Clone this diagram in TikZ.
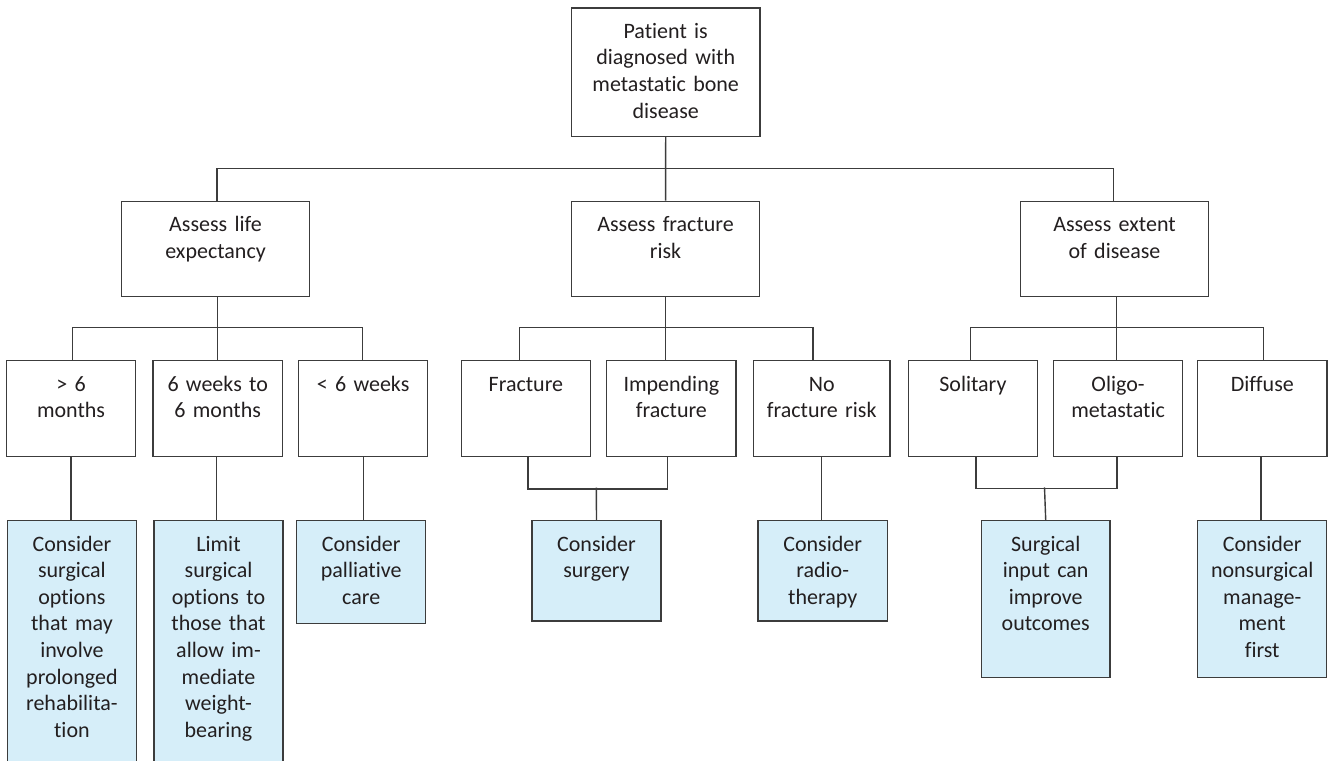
\documentclass[tikz,border=0pt]{standalone}
\usepackage{fontspec}
\setmainfont{Carlito}[Ligatures={NoCommon,NoContextual}]
\definecolor{ln}{HTML}{3C3C3C}
\definecolor{bf}{HTML}{D6EEF9}
\definecolor{txt}{HTML}{231F20}
\tikzset{
  bx/.style={draw=ln, line width=0.7pt, inner sep=0pt, anchor=north west},
  wbx/.style={bx, fill=white},
  bbx/.style={bx, fill=bf},
  tx/.style={anchor=base, inner sep=0pt, text width=#1, align=center,
    font=\fontsize{11}{13.3}\selectfont, text=txt},
  cn/.style={draw=ln, line width=0.7pt},
}
% #1 style, #2 name, #3 x1, #4 y1, #5 x2, #6 y2, #7 text width, #8 text
\newcommand\mybox[8]{%
  \node[#1, minimum width={(#5-#3)*0.5}, minimum height={(#6-#4)*0.5}] (#2) at (#3,#4) {};
  \node[tx=#7] (#2-t) at ([yshift=-15.5pt]#2.north) {#8};
}
\begin{document}
\begin{tikzpicture}[x=0.5pt, y=-0.5pt]
\path[use as bounding box, fill=white] (0,0) rectangle (1331,760);
\clip (0,0) rectangle (1331,760);

\coordinate (mB) at (596.3,487.7);
\coordinate (mC) at (1044.5,487.3);

% boxes
\mybox{wbx}{root}{570.7}{7.3}{759.3}{135.7}{90pt}{Patient is\\diagnosed with\\metastatic bone\\disease}
\mybox{wbx}{La}{120.7}{200.7}{309}{296}{90pt}{Assess life\\expectancy}
\mybox{wbx}{Lb}{571}{200.7}{758.7}{296}{90pt}{Assess fracture\\risk}
\mybox{wbx}{Lc}{1020}{200.7}{1207.6}{296}{90pt}{Assess extent\\of disease}

\mybox{wbx}{A1}{5.7}{360}{135}{456}{62pt}{> 6\\months}
\mybox{wbx}{A2}{152.3}{360}{281.7}{456}{62pt}{6 weeks to\\6 months}
\mybox{wbx}{A3}{297.7}{360}{427}{456}{62pt}{< 6 weeks}
\mybox{wbx}{B1}{460.7}{360}{589.7}{456}{62pt}{Fracture}
\mybox{wbx}{B2}{606}{360}{735.3}{456}{62pt}{Impending\\fracture}
\mybox{wbx}{B3}{752.7}{360}{889.3}{456}{66pt}{No\\fracture risk}
\mybox{wbx}{C1}{907.7}{360}{1036.7}{456}{62pt}{Solitary}
\mybox{wbx}{C2}{1052.7}{360}{1182}{456}{62pt}{Oligo-\\metastatic}
\mybox{wbx}{C3}{1197}{360}{1326.3}{456}{62pt}{Diffuse}

\mybox{bbx}{D1}{6.7}{520}{135.7}{763}{62pt}{Consider\\surgical\\options\\that may\\involve\\prolonged\\rehabilita-\\tion}
\mybox{bbx}{D2}{153.3}{520}{282.3}{763}{62pt}{Limit\\surgical\\options to\\those that\\allow im-\\mediate\\weight-\\bearing}
\mybox{bbx}{D3}{296}{520}{425}{623}{62pt}{Consider\\palliative\\care}
\mybox{bbx}{D4}{531.3}{520}{660.3}{620.3}{62pt}{Consider\\surgery}
\mybox{bbx}{D5}{757.3}{520}{886.7}{620.3}{62pt}{Consider\\radio-\\therapy}
\mybox{bbx}{D6}{980.7}{520}{1109.3}{677}{62pt}{Surgical\\input can\\improve\\outcomes}
\mybox{bbx}{D7}{1197}{520}{1326}{677}{62pt}{Consider\\nonsurgical\\manage-\\ment\\first}

% level 1 -> level 2
\draw[cn] (root.south) -- (Lb.north);
\draw[cn] ([xshift=0.7pt]La.north) -- ++(0,-32.5) -| ([xshift=-0.5pt]Lc.north);

% level 2 -> level 3
\draw[cn] ([xshift=0.9pt]La.south) -- ([xshift=0.9pt]La.south |- A2.north);
\draw[cn] ([xshift=0.6pt]A1.north) -- ++(0,-32.3) -| ([xshift=-0.2pt]A3.north);
\draw[cn] (Lb.south) -- (Lb.south |- B2.north);
\draw[cn] ([xshift=-3.1pt]B1.north) -- ++(0,-32.3) -| ([xshift=-4.35pt]B3.north);
\draw[cn] ([xshift=0.9pt]Lc.south) -- ([xshift=0.9pt]Lc.south |- C2.north);
\draw[cn] ([xshift=-1.2pt]C1.north) -- ++(0,-32.3) -| ([xshift=0.6pt]C3.north);

% level 3 -> level 4
\draw[cn] (A1.south) -- (A1.south |- D1.north);
\draw[cn] ([xshift=-0.5pt]A2.south) -- ([xshift=-0.5pt]A2.south |- D2.north);
\draw[cn] ([xshift=0.2pt]A3.south) -- ([xshift=0.2pt]A3.south |- D3.north);
\draw[cn] ([xshift=1pt]B1.south) -- ++(0,31.7) -| ([xshift=-2pt]B2.south);
\draw[cn] (D4.north) -- (mB);
\draw[cn] (B3.south) -- (B3.south |- D5.north);
\draw[cn] ([xshift=1.5pt]C1.south) -- ++(0,31.3) -| ([xshift=-0.5pt]C2.south);
\draw[cn] (D6.north) -- (mC);
\draw[cn] ([xshift=-0.7pt]C3.south) -- ([xshift=-0.7pt]C3.south |- D7.north);
\end{tikzpicture}
\end{document}
